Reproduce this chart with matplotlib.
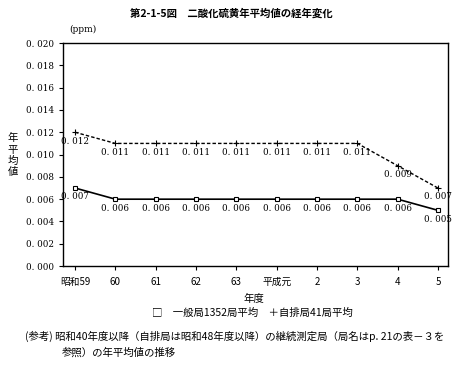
import matplotlib
matplotlib.use("Agg")
import matplotlib.pyplot as plt

plt.rcParams['font.family'] = ['Noto Sans CJK JP', 'DejaVu Sans']

# データ
years = ["昭和59", "60", "61", "62", "63", "平成元", "2", "3", "4", "5"]
ippan = [0.007, 0.006, 0.006, 0.006, 0.006, 0.006, 0.006, 0.006, 0.006, 0.005]
jihai = [0.012, 0.011, 0.011, 0.011, 0.011, 0.011, 0.011, 0.011, 0.009, 0.007]
y_ticks = [0.000, 0.002, 0.004, 0.006, 0.008, 0.010, 0.012, 0.014, 0.016, 0.018, 0.020]


def fmt(v):
    return "0. %03d" % round(v * 1000)


fig = plt.figure(figsize=(4.65, 3.65), dpi=100)
ax = fig.add_axes([0.1355, 0.271, 0.828, 0.611])

x = list(range(len(years)))
ax.plot(x, jihai, color="black", linestyle=(0, (2.5, 1.5)), linewidth=1.0,
        marker="+", markersize=4, markeredgewidth=0.8)
ax.plot(x, ippan, color="black", linestyle="-", linewidth=1.2,
        marker="s", markersize=3.5, markerfacecolor="white", markeredgewidth=0.8)

# 数値ラベル
for i, v in enumerate(jihai):
    ax.text(i, v - 0.0004, fmt(v), ha="center", va="top", fontsize=6.3,
            family="DejaVu Serif")
for i, v in enumerate(ippan):
    ax.text(i, v - 0.0004, fmt(v), ha="center", va="top", fontsize=6.3,
            family="DejaVu Serif")

ax.set_xlim(-0.3, 9.25)
ax.set_ylim(0, 0.020)
ax.set_xticks(x)
ax.set_xticklabels(years, fontsize=7)
ax.set_yticks(y_ticks)
ax.set_yticklabels([fmt(v) for v in y_ticks], fontsize=6.3, family="DejaVu Serif")
ax.tick_params(length=3, width=0.8, direction="out")
ax.tick_params(axis="x", pad=5)
for s in ax.spines.values():
    s.set_linewidth(1.0)

fig.text(0.498, 0.963, "第2-1-5図　二酸化硫黄年平均値の経年変化", ha="center", va="center",
         fontsize=7.5, fontweight="bold")
fig.text(0.150, 0.918, "(ppm)", ha="left", va="center", fontsize=6.5, family="DejaVu Serif")
fig.text(0.028, 0.575, "年\n平\n均\n値", ha="center", va="center", fontsize=7.5,
         linespacing=1.15)
fig.text(0.545, 0.181, "年度", ha="center", va="center", fontsize=7.5)
fig.text(0.543, 0.142, "□　一般局1352局平均　＋自排局41局平均", ha="center", va="center",
         fontsize=7.5)
fig.text(0.054, 0.079, "(参考) 昭和40年度以降（自排局は昭和48年度以降）の継続測定局（局名はp. 21の表－３を",
         ha="left", va="center", fontsize=7.5)
fig.text(0.133, 0.033, "参照）の年平均値の推移", ha="left", va="center", fontsize=7.5)

fig.savefig("out.png", dpi=100)
